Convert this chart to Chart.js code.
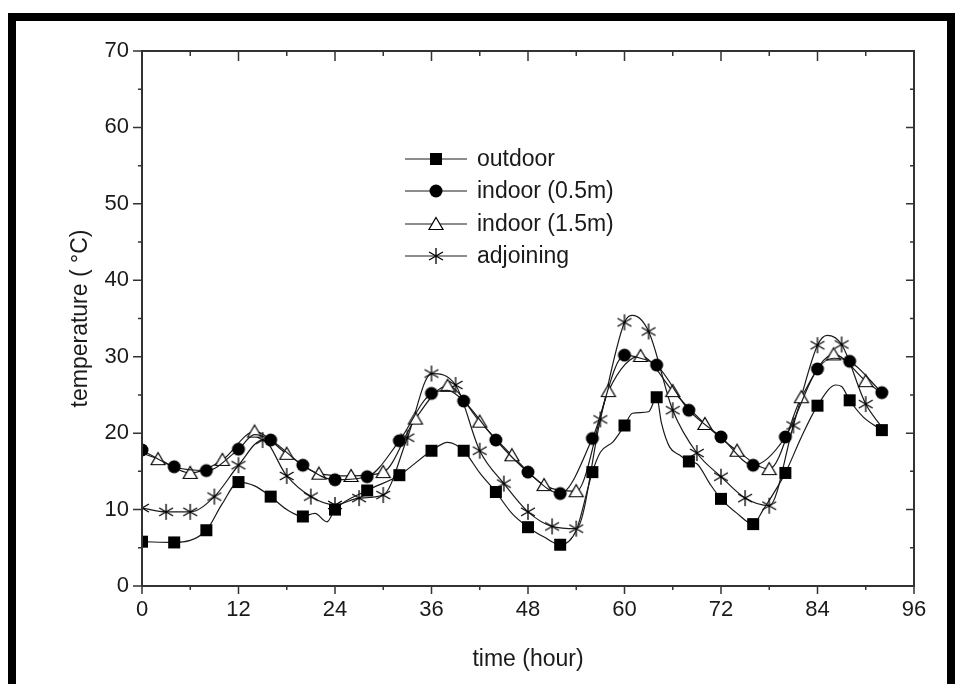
<!DOCTYPE html>
<html>
<head>
<meta charset="utf-8">
<script src="https://cdn.jsdelivr.net/npm/chart.js@4.4.1/dist/chart.umd.min.js"></script>
<style>
  html, body { margin: 0; padding: 0; background: #fff; }
  #wrap { position: relative; width: 959px; height: 684px; }
</style>
</head>
<body>
<div id="wrap"><canvas id="chart" width="959" height="684"></canvas></div>
<script>
// hourly readings, markers only every few hours (see markerRules)
const outdoorHours = [0, 4, 8, 10, 12, 14, 16, 18, 20, 21.5, 23, 24, 28, 32, 36, 38, 40, 42, 44, 46, 48, 50, 52, 54, 55.5, 56, 57, 58.6, 60, 61, 63, 64, 64.6, 65.6, 66.9, 68, 69, 70.6, 72, 74, 76, 77.2, 80, 82, 84, 86.3, 87, 88, 89.7, 92];
const outdoorTemps = [5.8, 5.7, 7.3, 10.8, 13.6, 13.1, 11.7, 10.0, 9.1, 9.5, 8.4, 10.0, 12.5, 14.5, 17.7, 18.8, 17.7, 14.8, 12.3, 9.5, 7.7, 6.4, 5.4, 7.3, 13.0, 14.9, 17.5, 18.9, 21.0, 22.6, 22.8, 24.7, 21.3, 18.2, 17.1, 16.3, 16.0, 13.4, 11.4, 9.5, 8.1, 9.9, 14.8, 19.5, 23.6, 26.3, 26.1, 24.3, 22.1, 20.4];

const indoor05Hours = [0, 4, 8, 12, 14, 16, 20, 24, 28, 32, 36, 38, 40, 44, 48, 52, 56, 60, 62, 64, 68, 72, 76, 80, 84, 86, 88, 92];
const indoor05Temps = [17.8, 15.6, 15.1, 17.9, 19.8, 19.1, 15.8, 13.9, 14.3, 19.0, 25.2, 25.6, 24.2, 19.1, 14.9, 12.1, 19.3, 30.2, 29.8, 28.9, 23.0, 19.5, 15.8, 19.5, 28.4, 29.8, 29.4, 25.3];

const indoor15Hours = [0, 2, 6, 10, 14, 18, 22, 26, 30, 34, 38, 42, 46, 50, 54, 58, 62, 66, 70, 74, 78, 82, 86, 90, 92];
const indoor15Temps = [17.4, 16.6, 14.8, 16.5, 20.2, 17.3, 14.7, 14.4, 14.9, 21.9, 26.2, 21.5, 17.1, 13.2, 12.4, 25.5, 30.1, 25.5, 21.2, 17.7, 15.3, 24.7, 30.3, 26.8, 25.2];

const adjoiningHours = [0, 3, 6, 9, 12, 15, 18, 21, 24, 27, 30, 33, 36, 39, 42, 45, 48, 51, 54, 57, 60, 61, 63, 66, 69, 72, 75, 78, 81, 84, 85.2, 87, 90, 92];
const adjoiningTemps = [10.2, 9.7, 9.7, 11.7, 15.8, 19.1, 14.4, 11.7, 10.6, 11.5, 11.9, 19.4, 27.8, 26.3, 17.7, 13.4, 9.7, 7.8, 7.5, 21.8, 34.5, 35.4, 33.3, 23.0, 17.4, 14.3, 11.5, 10.5, 21.0, 31.5, 32.8, 31.6, 23.8, 20.8];

const seriesNames = ['outdoor', 'indoor (0.5m)', 'indoor (1.5m)', 'adjoining'];
const xTicks = [0, 12, 24, 36, 48, 60, 72, 84, 96];
const yTicks = [0, 10, 20, 30, 40, 50, 60, 70];

const FONT = "'Liberation Sans', Arial, Helvetica, sans-serif";
const INK = '#1a1a1a';

function makeMarker(kind) {
    const c = document.createElement('canvas');
    c.width = 18;
    c.height = 18;
    const g = c.getContext('2d');
    g.translate(9, 9);
    g.fillStyle = '#000';
    g.strokeStyle = '#000';
    if (kind === 'square') {
        g.fillRect(-6, -6, 12, 12);
    } else if (kind === 'circle') {
        g.beginPath();
        g.arc(0, 0, 6.5, 0, Math.PI * 2);
        g.fill();
    } else if (kind === 'triangle') {
        g.lineWidth = 1.2;
        g.beginPath();
        g.moveTo(0, -6.5);
        g.lineTo(7, 5.5);
        g.lineTo(-7, 5.5);
        g.closePath();
        g.fillStyle = '#fff';
        g.fill();
        g.stroke();
    } else {
        g.lineWidth = 1.3;
        g.beginPath();
        [90, 30, -30].forEach(function(a) {
            const r = a * Math.PI / 180;
            g.moveTo(-8 * Math.cos(r), -8 * Math.sin(r));
            g.lineTo(8 * Math.cos(r), 8 * Math.sin(r));
        });
        g.stroke();
    }
    return c;
}

const markers = [makeMarker('square'), makeMarker('circle'), makeMarker('triangle'), makeMarker('star')];

// which hours carry a symbol for each series
const markerRules = [
    h => h % 4 === 0,
    h => h % 4 === 0,
    h => h % 4 === 2,
    h => h % 3 === 0 && h <= 90
];

function toPoints(hours, temps) {
    return hours.map((h, i) => ({ x: h, y: temps[i] }));
}

const allSeries = [
    toPoints(outdoorHours, outdoorTemps),
    toPoints(indoor05Hours, indoor05Temps),
    toPoints(indoor15Hours, indoor15Temps),
    toPoints(adjoiningHours, adjoiningTemps)
];

const datasets = allSeries.map(function(points, i) {
    return {
        label: seriesNames[i],
        data: points,
        borderColor: INK,
        borderWidth: 1.2,
        cubicInterpolationMode: 'monotone',
        pointStyle: markers[i],
        pointRadius: function(ctx) {
            const p = ctx.raw;
            return p && markerRules[i](p.x) ? 6 : 0;
        },
        pointHoverRadius: 0
    };
});

const frameAndAxes = {
    id: 'frameAndAxes',
    beforeDraw(chart) {
        const ctx = chart.ctx;
        ctx.save();
        ctx.fillStyle = '#fff';
        ctx.fillRect(0, 0, chart.width, chart.height);
        ctx.fillStyle = '#000';
        ctx.fillRect(8, 13, 8, 671);
        ctx.fillRect(8, 13, 947, 8);
        ctx.fillRect(947, 13, 8, 671);
        ctx.restore();
    },
    afterDraw(chart) {
        const { ctx, chartArea: a, scales: { x, y } } = chart;
        ctx.save();
        ctx.strokeStyle = '#333';
        ctx.lineWidth = 2;
        ctx.strokeRect(a.left, a.top, a.right - a.left, a.bottom - a.top);
        ctx.lineWidth = 1.5;
        ctx.beginPath();
        for (let h = 0; h <= 96; h += 6) {
            const px = x.getPixelForValue(h);
            const major = h % 12 === 0;
            ctx.moveTo(px, a.bottom);
            ctx.lineTo(px, a.bottom + (major ? 8 : 4));
            ctx.moveTo(px, a.top);
            ctx.lineTo(px, a.top + (major ? 10 : 5));
        }
        for (let t = 0; t <= 70; t += 5) {
            const py = y.getPixelForValue(t);
            const major = t % 10 === 0;
            ctx.moveTo(a.left, py);
            ctx.lineTo(a.left - (major ? 9 : 4), py);
            ctx.moveTo(a.right, py);
            ctx.lineTo(a.right - (major ? 8 : 4), py);
        }
        ctx.stroke();

        // legend box inside the plot
        const rows = [159, 191, 224, 256];
        ctx.font = '23px ' + FONT;
        ctx.fillStyle = INK;
        ctx.textBaseline = 'middle';
        ctx.strokeStyle = INK;
        ctx.lineWidth = 1.2;
        rows.forEach(function(ry, i) {
            ctx.beginPath();
            ctx.moveTo(405, ry);
            ctx.lineTo(467, ry);
            ctx.stroke();
            ctx.drawImage(markers[i], 436 - 9, ry - 9);
            ctx.fillText(seriesNames[i], 477, ry + 1);
        });
        ctx.restore();
    }
};

new Chart(document.getElementById('chart'), {
    type: 'line',
    data: { datasets: datasets },
    options: {
        responsive: false,
        animation: false,
        layout: {
            padding: { left: 42, right: 45, top: 51, bottom: 11 }
        },
        scales: {
            x: {
                type: 'linear',
                min: 0,
                max: 96,
                afterBuildTicks: function(scale) {
                    scale.ticks = xTicks.map(v => ({ value: v }));
                },
                afterFit: function(scale) {
                    scale.height = 87;
                },
                grid: { display: false, drawTicks: false },
                border: { display: false },
                ticks: {
                    padding: 11,
                    color: INK,
                    font: { family: FONT, size: 22 }
                },
                title: {
                    display: true,
                    text: 'time (hour)',
                    color: INK,
                    padding: 0,
                    font: { family: FONT, size: 23 }
                }
            },
            y: {
                min: 0,
                max: 70,
                afterBuildTicks: function(scale) {
                    scale.ticks = yTicks.map(v => ({ value: v }));
                },
                afterFit: function(scale) {
                    scale.width = 100;
                },
                grid: { display: false, drawTicks: false },
                border: { display: false },
                ticks: {
                    padding: 13,
                    color: INK,
                    font: { family: FONT, size: 22 }
                },
                title: {
                    display: true,
                    text: 'temperature ( °C)',
                    color: INK,
                    padding: { top: 25, bottom: 0 },
                    font: { family: FONT, size: 23 }
                }
            }
        },
        plugins: {
            legend: { display: false },
            tooltip: { enabled: false }
        }
    },
    plugins: [frameAndAxes]
});
</script>
</body>
</html>
